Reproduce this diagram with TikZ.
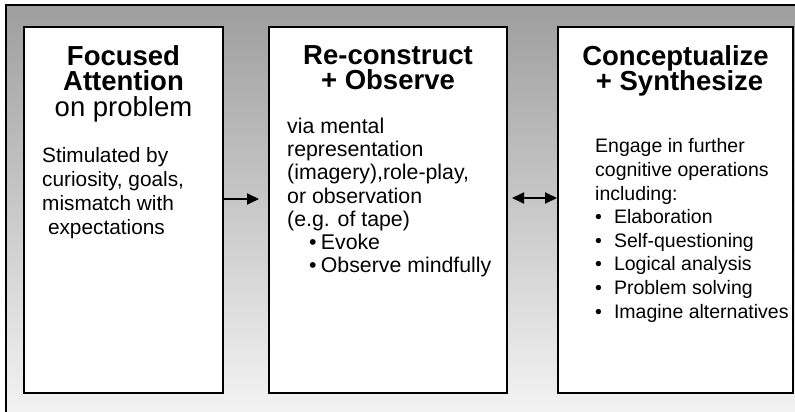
\documentclass[tikz,border=0pt]{standalone}
\usepackage{fontspec}
\setmainfont{Liberation Sans}
\usetikzlibrary{arrows.meta}
\colorlet{box edge}{black}
\colorlet{shade top}{black!38}
\colorlet{shade bottom}{black!4}
\tikzset{stage/.style={draw=box edge, line width=1.8pt, fill=white, inner sep=0pt,
        outer sep=0pt, minimum height=366pt, anchor=north west},
    heading/.style={anchor=north, align=center, inner sep=0pt,
        font=\fontsize{27.5}{25.8}\selectfont},
    body/.style={anchor=north west, align=left, inner sep=0pt,
        font=\fontsize{21.3}{23.5}\selectfont},
    link/.style={draw=box edge, line width=1.8pt, -{Triangle[length=12pt,width=11pt]}}}

\begin{document}
\begin{tikzpicture}[x=1pt, y=-1pt]
    \useasboundingbox (0,0) rectangle (795,412);
    \shade[top color=shade top, bottom color=shade bottom, draw=box edge, line width=1.8pt]
        (6,5) rectangle (805,420);
    % the three stages
    \node[stage, minimum width=199pt] (focus)  at (24,27)  {};
    \node[stage, minimum width=238pt] (recon)  at (269,27) {};
    \node[stage, minimum width=235pt] (concep) at (558,27) {};
    \node[heading] (focustitle) at (123.5,45)
        {\textbf{Focused}\\\textbf{Attention}\\on problem};
    \node[body, font=\fontsize{20.8}{24}\selectfont] (focustext) at (42,147.5)
        {Stimulated by\\curiosity, goals,\\mismatch with\\\hspace{0.28em}expectations};
    \node[heading] (recontitle) at (388,45) {\textbf{Re-construct}\\\textbf{+ Observe}};
    \node[body, font=\fontsize{21.3}{23.3}\selectfont] (recontext) at (287,117.5)
        {via mental\\representation\\(imagery),role-play,\\or observation\\(e.g. of tape)\\
         \hspace{22pt}\textbullet\hspace{0.2em}Evoke\\
         \hspace{22pt}\textbullet\hspace{0.2em}Observe mindfully};
    \node[heading] (conceptitle) at (675.5,45)
        {\textbf{Conceptualize}\\\hspace{0.3em}\textbf{+ Synthesize}};
    \node[body, font=\fontsize{19.5}{23.6}\selectfont] (conceptext) at (595,138.5)
        {Engage in further\\cognitive operations\\including:\\
         \textbullet\hspace{12pt}Elaboration\\
         \textbullet\hspace{12pt}Self-questioning\\
         \textbullet\hspace{12pt}Logical analysis\\
         \textbullet\hspace{12pt}Problem solving\\
         \textbullet\hspace{12pt}Imagine alternatives};
    % links
    \draw[link, shorten >=10pt] ([yshift=11pt]focus.east) -- ([yshift=11pt]recon.west);
    \draw[link, {Triangle[length=12pt,width=11pt]}-{Triangle[length=12pt,width=11pt]},
        shorten <=5pt, shorten >=1pt] ([yshift=12pt]recon.east) -- ([yshift=12pt]concep.west);
\end{tikzpicture}
\end{document}
